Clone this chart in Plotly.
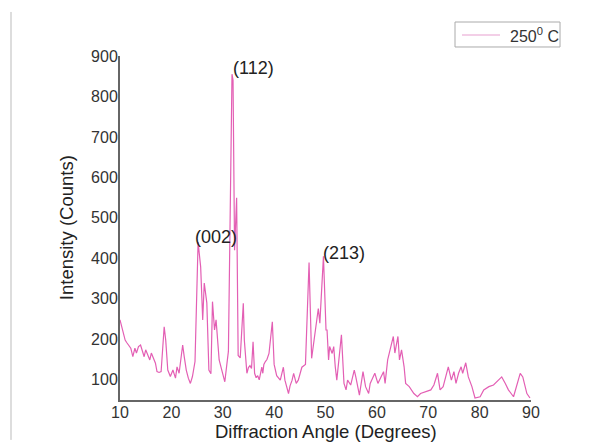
import plotly.graph_objects as go

# Diffraction angle (degrees) and intensity (counts)
angle = [10.0, 10.3, 10.6, 11.0, 11.3, 11.6, 12.1, 12.5, 12.9, 13.2, 13.6, 14.0, 14.3, 14.7,
         15.0, 15.5, 15.8, 16.1, 16.5, 16.9, 17.2, 17.6, 18.0, 18.3, 18.6, 18.9, 19.3, 19.8,
         20.3, 20.8, 21.1, 21.5, 21.8, 22.2, 22.5, 22.9, 23.3, 23.7, 24.1, 24.6, 25.2, 25.7,
         26.1, 26.4, 26.9, 27.3, 27.7, 28.0, 28.4, 28.7, 29.3, 30.1, 30.4, 30.9, 31.1, 31.8,
         32.0, 32.3, 32.7, 33.0, 33.4, 34.0, 34.2, 34.7, 35.0, 35.3, 35.6, 35.9, 36.2, 36.5,
         36.8, 37.1, 37.6, 37.8, 38.0, 38.3, 38.6, 39.0, 39.65, 40.0, 40.5, 41.2, 41.8, 42.1,
         42.8, 43.1, 43.5, 43.8, 44.3, 44.7, 45.4, 46.1, 46.8, 47.3, 47.95, 48.6, 48.9, 49.6,
         50.1, 50.3, 50.6, 50.8, 51.3, 51.6, 51.9, 52.2, 53.1, 53.6, 54.0, 54.3, 54.9, 55.6,
         55.9, 56.4, 56.6, 57.3, 57.8, 58.4, 58.7, 59.6, 60.2, 60.8, 61.3, 61.6, 62.1, 63.2,
         63.5, 64.1, 64.4, 64.8, 65.3, 65.6, 66.3, 67.2, 67.9, 68.5, 69.5, 70.5, 71.1, 71.8,
         72.3, 72.9, 73.9, 74.5, 75.0, 75.4, 75.9, 76.4, 76.7, 77.3, 77.8, 78.5, 79.1, 80.1,
         80.8, 81.8, 82.7, 83.7, 84.3, 85.0, 85.6, 86.6, 87.9, 88.4, 89.2, 89.8]
intensity = [248, 231, 215, 198, 192, 186, 178, 157, 178, 166, 182, 186, 174, 157,
             174, 161, 149, 166, 153, 141, 120, 118, 120, 170, 231, 198, 124, 108,
             124, 104, 132, 116, 150, 186, 157, 124, 104, 91, 108, 145, 440, 379,
             248, 339, 290, 124, 115, 293, 223, 248, 149, 108, 95, 149, 170, 855,
             840, 420, 550, 160, 154, 289, 198, 116, 130, 135, 128, 194, 116, 105,
             110, 100, 131, 116, 138, 145, 150, 165, 243, 138, 110, 99, 131, 99,
             66, 85, 99, 116, 91, 99, 131, 138, 390, 153, 215, 276, 240, 405,
             223, 223, 149, 182, 165, 182, 132, 99, 211, 91, 75, 99, 87, 124,
             107, 75, 62, 120, 83, 66, 91, 116, 91, 107, 120, 91, 149, 207,
             166, 207, 149, 174, 132, 91, 83, 66, 58, 66, 70, 75, 87, 116,
             75, 83, 132, 99, 120, 91, 116, 132, 116, 142, 107, 83, 55, 58,
             75, 83, 87, 99, 107, 91, 75, 58, 116, 107, 66, 55]

peak_labels = ["(002)", "(112)", "(213)"]
peak_x = [25.2, 31.8, 49.6]
peak_y = [440, 855, 405]

x_ticks = [10, 20, 30, 40, 50, 60, 70, 80, 90]
y_ticks = [100, 200, 300, 400, 500, 600, 700, 800, 900]

series_name = "250<sup>0</sup> C"

FONT = "Liberation Sans, Arial, sans-serif"
LINE_COLOR = "#E35FB4"

fig = go.Figure()
fig.add_trace(go.Scatter(
    x=angle, y=intensity, mode="lines", name=series_name,
    line=dict(color=LINE_COLOR, width=1.2), showlegend=False,
))

# label offsets (pixels) relative to each peak top
label_shift = [(18, 5), (21, 6), (21, 3)]

annotations = []
for lab, px, py, (sx, sy) in zip(peak_labels, peak_x, peak_y, label_shift):
    annotations.append(dict(
        x=px, y=py, xref="x", yref="y", text=lab, showarrow=False,
        xanchor="center", yanchor="middle", xshift=sx, yshift=sy,
        font=dict(family=FONT, size=18, color="#222"),
    ))
annotations.append(dict(
    x=0.5, y=-0.093, xref="paper", yref="paper", text="Diffraction Angle (Degrees)",
    showarrow=False, xanchor="center", yanchor="middle",
    font=dict(family=FONT, size=18.5, color="#222"),
))
annotations.append(dict(
    x=-0.131, y=0.5, xref="paper", yref="paper", text="Intensity (Counts)",
    showarrow=False, xanchor="center", yanchor="middle", textangle=-90,
    font=dict(family=FONT, size=18.5, color="#222"),
))
# legend text
annotations.append(dict(
    x=0.944, y=1.061, xref="paper", yref="paper", text=series_name,
    showarrow=False, xanchor="left", yanchor="middle",
    font=dict(family=FONT, size=16, color="#333"),
))

shapes = [
    # page edge line at far left
    dict(type="line", xref="paper", yref="paper",
         x0=-0.2652, x1=-0.2652, y0=1.128, y1=-0.116,
         line=dict(color="#bbbbbb", width=1)),
    # legend box
    dict(type="rect", xref="paper", yref="paper",
         x0=0.8151, x1=1.0706, y0=1.0262, y1=1.0988,
         line=dict(color="#aaaaaa", width=1), fillcolor="white"),
    # legend line sample
    dict(type="line", xref="paper", yref="paper",
         x0=0.8321, x1=0.9246, y0=1.061, y1=1.061,
         line=dict(color="#E8A0D0", width=1.2)),
]

fig.update_layout(
    width=595, height=438,
    margin=dict(l=112, r=72, t=48, b=46, pad=0),
    paper_bgcolor="white", plot_bgcolor="white",
    font=dict(family=FONT, color="#333"),
    showlegend=False,
    annotations=annotations,
    shapes=shapes,
    xaxis=dict(
        range=[10, 90], tickmode="array", tickvals=x_ticks,
        showgrid=False, zeroline=False, showline=True,
        linecolor="#666", linewidth=2, ticks="",
        ticklabelstandoff=-3,
        tickfont=dict(family=FONT, size=16, color="#333"),
    ),
    yaxis=dict(
        range=[50, 900], tickmode="array", tickvals=y_ticks,
        showgrid=False, zeroline=False, showline=True,
        linecolor="#666", linewidth=2, ticks="",
        ticklabelstandoff=-3,
        tickfont=dict(family=FONT, size=16, color="#333"),
    ),
)

fig.write_html("out.html")
